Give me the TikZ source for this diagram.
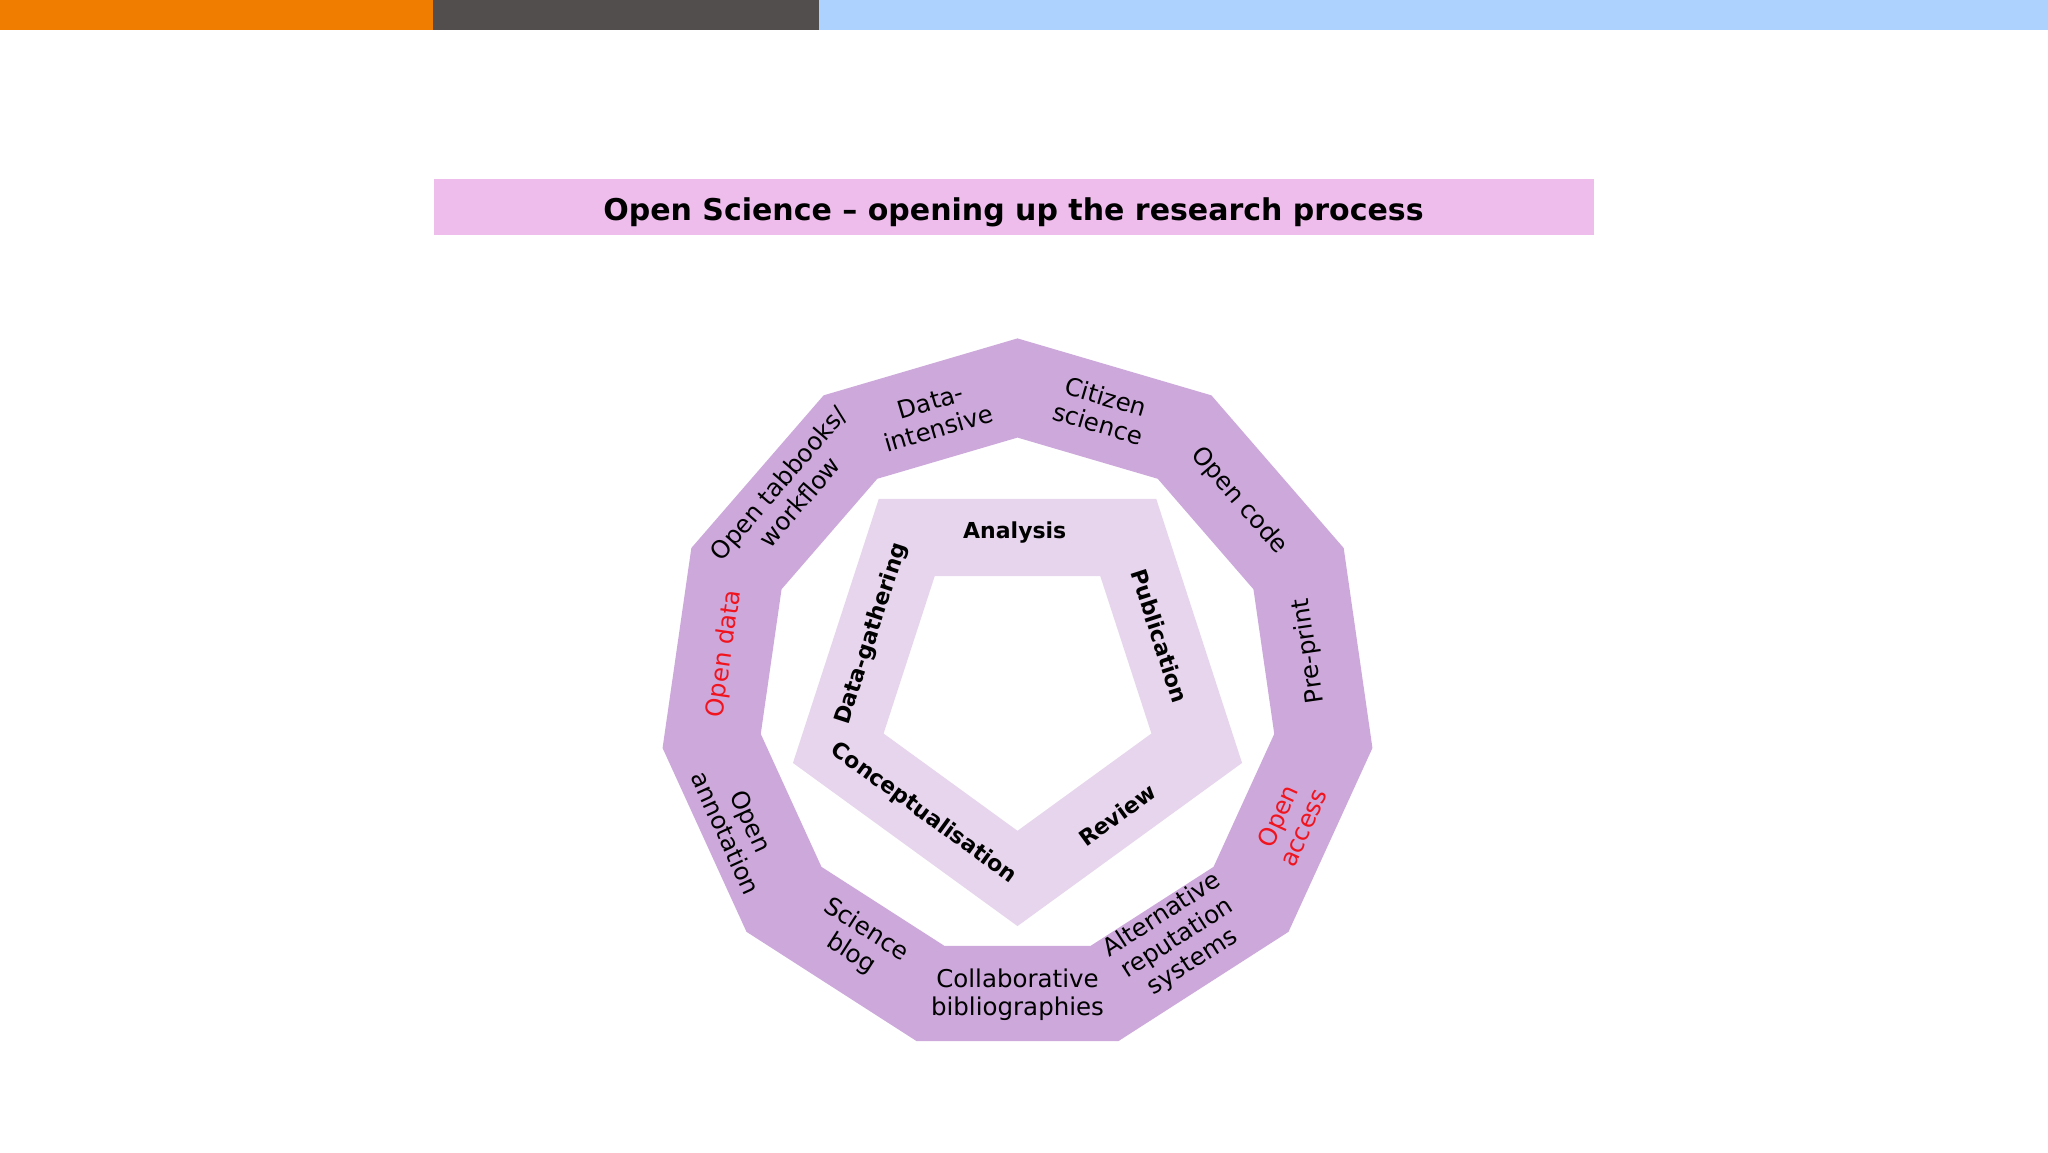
\documentclass[tikz,border=0pt]{standalone}
\usepackage{fontspec}
\setmainfont{DejaVu Sans}
\usepackage{tikz}
\usetikzlibrary{positioning}
\definecolor{barorange}{HTML}{F07C00}
\definecolor{bargray}{HTML}{524E4E}
\definecolor{barblue}{HTML}{ADD2FE}
\definecolor{titlepink}{HTML}{EEBDEC}
\definecolor{ringpurple}{HTML}{CDA8DB}
\definecolor{ringlight}{HTML}{E6D5EC}
\definecolor{openred}{HTML}{F0141E}

\begin{document}
\begin{tikzpicture}[
  x=1pt, y=1pt,
  bar/.style={draw=none, fill=#1},
  ring/.style={fill=#1, even odd rule},
  outerlbl/.style={font=\fontsize{24.5}{28}\selectfont, align=center, inner sep=0pt},
  innerlbl/.style={font=\fontsize{22}{26}\selectfont\bfseries, align=center, inner sep=0pt},
  titlebox/.style={fill=titlepink, minimum width=1160pt, minimum height=56pt,
    font=\fontsize{30}{36}\selectfont\bfseries}
]
\useasboundingbox (0,0) rectangle (2048,1152);

% Top bar
\fill[bar=barorange] (0,1122) rectangle (433,1152);
\fill[bar=bargray] (433,1122) rectangle (819,1152);
\fill[bar=barblue] (819,1122) rectangle (2048,1152);

% Title
\fill[titlepink] (433.6,917) rectangle (1593.5,973);
\node[font=\fontsize{30}{36}\selectfont\bfseries, inner sep=0pt] (title) at (1013.5,940) {Open Science -- opening up the research process};

% Outer ring (11 sides)
\begin{scope}[shift={(1017.5,455)}]
  \fill[ring=ringpurple]
    (90:358.6) \foreach \k in {1,...,10} { -- ({90+\k*360/11}:358.6) } -- cycle
    (90:259.4) \foreach \k in {1,...,10} { -- ({90+\k*360/11}:259.4) } -- cycle;

  \node[outerlbl, rotate=-16.4] (citizen) at (73.6:299) {Citizen\\science};
  \node[outerlbl, rotate=16.4] (dataint) at (106.4:294) {Data-\\intensive};
  \node[outerlbl, rotate=49.1] (tabbooks) at (138.2:307) {Open tabbooks/\\workflow};
  \node[outerlbl, rotate=81.8, text=openred] (opendata) at (171.6:296) {Open data};
  \node[outerlbl, rotate=-65.5] (annotation) at (205:308) {Open\\annotation};
  \node[outerlbl, rotate=-32.7] (blog) at (237:292) {Science\\blog};
  \node[outerlbl] (biblio) at (270:298) {Collaborative\\bibliographies};
  \node[outerlbl, rotate=32.7] (reputation) at (303.5:290) {Alternative\\reputation\\systems};
  \node[outerlbl, rotate=65.5, text=openred] (access) at (335.4:300) {Open\\access};
  \node[outerlbl, rotate=98.2] (preprint) at (9:295) {Pre-print};
  \node[outerlbl, rotate=-49.1] (code) at (41.5:296) {Open code};
\end{scope}

% Inner pentagon (research process)
\begin{scope}[shift={(1017.5,462)}]
  \fill[ring=ringlight]
    (270:236.1) \foreach \k in {1,...,4} { -- ({270+\k*72}:236.1) } -- cycle
    (270:140.8) \foreach \k in {1,...,4} { -- ({270+\k*72}:140.8) } -- cycle;

  \node[innerlbl] (analysis) at (91:158) {Analysis};
  \node[innerlbl, rotate=72] (gathering) at (159:156) {Data-gathering};
  \node[innerlbl, rotate=-72] (publication) at (20.8:152) {Publication};
  \node[innerlbl, rotate=-36] (concept) at (232.8:155) {Conceptualisation};
  \node[innerlbl, rotate=36] (review) at (308.6:160) {Review};
\end{scope}

\end{tikzpicture}
\end{document}
